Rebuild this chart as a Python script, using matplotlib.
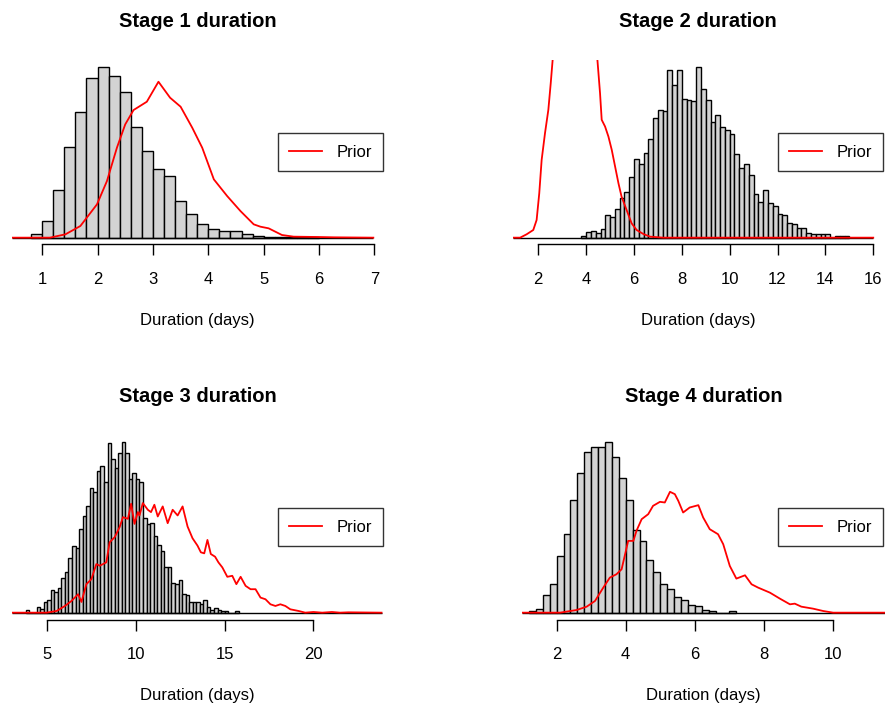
import numpy as np
import matplotlib
matplotlib.use("Agg")
import matplotlib.pyplot as plt

plt.rcParams["font.family"] = ["Liberation Sans", "DejaVu Sans"]

# Histogram bars (bin width 0.2 days), heights in arbitrary units
bin_width = 0.2

stage1_bin_start = 0.8
stage1_hist = [11, 51, 143, 271, 378, 480, 513, 486, 438, 331, 261, 206, 185,
               111, 71, 41, 26, 19, 19, 10, 4, 3, 3, 1, 1, 1]

stage2_bin_start = 3.8
stage2_hist = [5, 16, 21, 15, 25, 67, 61, 87, 118, 136, 182, 237, 220, 255, 295,
               358, 383, 379, 501, 458, 501, 414, 413, 410, 512, 446, 412, 347,
               367, 332, 322, 311, 250, 208, 221, 188, 130, 108, 143, 103, 96,
               70, 68, 43, 40, 30, 30, 15, 10, 10, 10, 10, 0, 6, 6, 6]

stage3_bin_start = 3.8
stage3_hist = [7, 0, 0, 16, 10, 31, 37, 67, 63, 73, 102, 122, 162, 199, 192, 251,
               287, 317, 372, 359, 424, 439, 389, 507, 459, 432, 477, 510, 477,
               400, 417, 400, 389, 282, 264, 269, 229, 202, 185, 135, 135, 89,
               85, 97, 57, 52, 32, 32, 32, 27, 37, 17, 9, 15, 7, 5, 5, 0, 0, 5]

stage4_bin_start = 1.2
stage4_hist = [5, 10, 52, 87, 169, 235, 337, 417, 480, 495, 495, 512, 465, 402,
               337, 247, 215, 159, 122, 87, 72, 47, 39, 22, 19, 9, 5, 0, 0, 5]

# Prior curves (same units)
stage1_prior_x = [0.45, 1.14, 1.42, 1.69, 1.99, 2.17, 2.35, 2.5, 2.65, 2.89, 3.1,
                  3.31, 3.5, 3.71, 3.89, 4.1, 4.34, 4.58, 4.82, 4.94, 5.09, 5.33,
                  5.54, 5.97, 6.27, 6.98]
stage1_prior_y = [0, 0, 10, 35, 100, 170, 270, 340, 383, 408, 468, 420, 393, 330,
                  270, 175, 125, 80, 40, 33, 28, 8, 3, 2, 1, 0]

stage2_prior_x = [0.96, 1.24, 1.51, 1.79, 1.93, 2.04, 2.14, 2.28, 2.42, 2.52, 2.6,
                  2.8, 3.0, 3.3, 3.6, 3.9, 4.2, 4.47, 4.58, 4.65, 4.79, 4.93,
                  5.07, 5.21, 5.35, 5.48, 5.69, 5.9, 6.11, 6.39, 6.67, 7.22, 16.0]
stage2_prior_y = [0, 0, 10, 23, 53, 133, 233, 313, 383, 463, 533, 760, 950,
                  1100, 1150, 1050, 800, 533, 433, 353, 333, 303, 263, 213, 163,
                  123, 83, 43, 23, 11, 3, 0, 0]

stage3_prior_x = [3.0, 4.97, 5.53, 6.0, 6.37, 6.74, 6.93, 7.21, 7.49, 7.77, 7.96,
                  8.33, 8.52, 8.8, 9.08, 9.27, 9.55, 9.73, 9.92, 10.11, 10.2,
                  10.39, 10.67, 10.85, 11.04, 11.23, 11.51, 11.79, 12.07, 12.35,
                  12.63, 12.91, 13.19, 13.47, 13.66, 13.85, 14.03, 14.22, 14.46,
                  14.65, 14.87, 15.15, 15.43, 15.66, 15.9, 16.18, 16.46, 16.74,
                  17.02, 17.3, 17.58, 17.86, 18.14, 18.42, 18.7, 19.17, 19.54,
                  20.0, 20.5, 21.04, 21.5, 21.97, 23.84]
stage3_prior_y = [0, 0, 5, 20, 35, 55, 32, 85, 100, 145, 140, 150, 210, 225, 255,
                  285, 280, 325, 265, 300, 290, 327, 307, 300, 322, 287, 317, 267,
                  307, 290, 317, 257, 222, 200, 180, 177, 217, 175, 167, 150, 135,
                  107, 110, 85, 107, 80, 70, 70, 45, 40, 25, 20, 25, 20, 10, 5, 0,
                  2, 0, 2, 0, 1, 0]

stage4_prior_x = [0.99, 2.1, 2.58, 2.87, 3.11, 3.35, 3.54, 3.73, 3.88, 3.97, 4.07,
                  4.22, 4.31, 4.46, 4.65, 4.79, 4.99, 5.13, 5.28, 5.42, 5.52,
                  5.66, 5.85, 6.1, 6.24, 6.43, 6.67, 6.82, 7.01, 7.2, 7.45, 7.64,
                  7.83, 8.17, 8.46, 8.75, 8.89, 9.08, 9.42, 9.71, 10.0, 11.49]
stage4_prior_y = [0, 0, 8, 18, 35, 75, 105, 115, 130, 170, 215, 215, 245, 280,
                  295, 320, 332, 330, 362, 355, 335, 300, 315, 322, 285, 250, 235,
                  205, 140, 102, 112, 85, 75, 60, 42, 25, 27, 18, 12, 5, 0, 0]

titles = ["Stage 1 duration", "Stage 2 duration", "Stage 3 duration", "Stage 4 duration"]
ticks = [[1, 2, 3, 4, 5, 6, 7], [2, 4, 6, 8, 10, 12, 14, 16],
         [5, 10, 15, 20], [2, 4, 6, 8, 10]]

W, H = 888, 706
fig = plt.figure(figsize=(W / 100, H / 100), dpi=100)

# panel boxes in pixels: left, right, top, bottom ; and x limits
boxes = [(11.7, 383.3, 59.9, 244.5), (513.3, 883.3, 59.9, 244.5),
         (11.7, 383.3, 434.9, 619.5), (521.7, 885.0, 434.9, 619.5)]
xlims = [(0.45, 7.16), (0.955, 16.42), (3.0, 23.94), (0.99, 11.5)]
legend_right = [383.3, 883.3, 383.3, 883.3]

panels = [
    (stage1_bin_start, stage1_hist, stage1_prior_x, stage1_prior_y),
    (stage2_bin_start, stage2_hist, stage2_prior_x, stage2_prior_y),
    (stage3_bin_start, stage3_hist, stage3_prior_x, stage3_prior_y),
    (stage4_bin_start, stage4_hist, stage4_prior_x, stage4_prior_y),
]

for i, (b0, hist, px, py) in enumerate(panels):
    l, r, t, b = boxes[i]
    ax = fig.add_axes([l / W, 1 - b / H, (r - l) / W, (b - t) / H])
    edges = b0 + bin_width * np.arange(len(hist))
    ax.bar(edges, hist, width=bin_width, align="edge", color="#d3d3d3",
           edgecolor="black", linewidth=1.0, zorder=2)
    ax.hlines(0, px[0], px[-1], color="black", linewidth=1.0, zorder=3)
    ax.plot(px, py, color="red", linewidth=1.3, zorder=4, label="Prior")
    m = max(hist)
    ax.set_ylim(-0.04 * m, 1.04 * m)
    ax.set_xlim(*xlims[i])
    for s in ["top", "left", "right"]:
        ax.spines[s].set_visible(False)
    ax.spines["bottom"].set_bounds(ticks[i][0], ticks[i][-1])
    ax.spines["bottom"].set_linewidth(1.0)
    ax.set_yticks([])
    ax.set_xticks(ticks[i])
    ax.tick_params(axis="x", length=8, width=1.0, pad=12, labelsize=12)
    ax.set_xlabel("Duration (days)", fontsize=12, labelpad=18.5)
    ax.set_title(titles[i], fontsize=14.5, fontweight="bold", pad=24)
    ax.patch.set_visible(False)
    leg = ax.legend(loc="center right",
                    bbox_to_anchor=(legend_right[i] / W, 1 - ((t + b) / 2) / H),
                    bbox_transform=fig.transFigure, fontsize=12, frameon=True,
                    fancybox=False, edgecolor="black", borderpad=0.7,
                    handlelength=1.95, handletextpad=0.86, borderaxespad=0)
    leg.get_frame().set_linewidth(1.0)

fig.savefig("out.png", dpi=100)
